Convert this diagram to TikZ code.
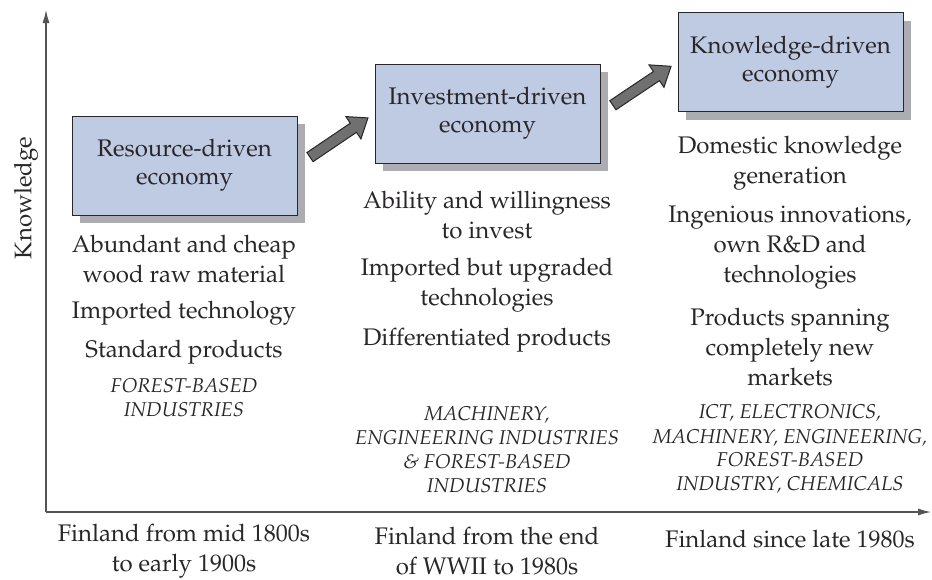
\documentclass[tikz,border=0pt]{standalone}
\usepackage[T1]{fontenc}
\usepackage{mathpazo}
\usepackage{tikz}
\usetikzlibrary{positioning,arrows.meta,shapes.arrows,shadows}
\definecolor{boxblue}{RGB}{191,202,227}
\definecolor{shadowgray}{RGB}{172,173,178}
\definecolor{arrowgray}{RGB}{112,112,112}
\definecolor{inkgray}{RGB}{40,38,40}
\definecolor{axisgray}{RGB}{85,85,85}
\tikzset{ecobox/.style={draw=inkgray, line width=0.5pt, fill=boxblue, text=inkgray,
  minimum width=112.5pt, minimum height=49.5pt, align=center,
  font=\fontsize{12}{14}\selectfont,
  drop shadow={shadow xshift=4pt, shadow yshift=-4pt, fill=shadowgray, opacity=1}}}
\tikzset{fatarrow/.style={single arrow, draw=inkgray, line width=0.5pt, fill=arrowgray,
  minimum height=35pt, minimum width=13pt, single arrow head extend=4pt,
  single arrow tip angle=75, inner xsep=0pt, inner ysep=2.5pt}}
\tikzset{axisline/.style={draw=axisgray, line width=1pt, -{Latex[length=7pt,width=3.5pt]}}}
\tikzset{itemtext/.style={align=center, text=inkgray, font=\fontsize{12}{15}\selectfont}}
\tikzset{industrytext/.style={align=center, text=inkgray, font=\fontsize{10}{12}\selectfont\itshape}}

\begin{document}
\begin{tikzpicture}[x=0.5pt, y=-0.5pt]
            \useasboundingbox (0,0) rectangle (932,579);

            % axes
            \coordinate (origin) at (46,512);
            \coordinate (ytop) at (46,9);
            \coordinate (xend) at (932,512);
            \draw[axisline] (origin) -- (ytop);
            \draw[axisline] (origin) -- (xend);
            \node[itemtext, rotate=90] (knowlabel) at (26,198) {Knowledge};

            % the three stages
            \node[ecobox] (resource) at (184.5,165.5) {Resource-driven\\economy};
            \node[ecobox] (investment) at (487.5,113.5) {Investment-driven\\economy};
            \node[ecobox] (knowledge) at (790.5,62) {Knowledge-driven\\economy};

            \path (resource.east) -- (investment.west) node[fatarrow, midway, sloped] (resinv) {};
            \path (investment.east) -- (knowledge.west) node[fatarrow, midway, sloped] (invknow) {};

            % resource-driven column
            \node[itemtext] (r1) at (184,259) {Abundant and cheap\\wood raw material};
            \node[itemtext] (r2) at (184,313) {Imported technology};
            \node[itemtext] (r3) at (184,352) {Standard products};
            \node[industrytext] (r4) at (184,398) {FOREST-BASED\\INDUSTRIES};

            % investment-driven column
            \node[itemtext] (i1) at (487,215) {Ability and willingness\\to invest};
            \node[itemtext] (i2) at (487,285) {Imported but upgraded\\technologies};
            \node[itemtext] (i3) at (487,340) {Differentiated products};
            \node[industrytext] (i4) at (487,449.5) {MACHINERY,\\ENGINEERING INDUSTRIES\\\& FOREST-BASED\\INDUSTRIES};

            % knowledge-driven column
            \node[itemtext] (k1) at (790,163) {Domestic knowledge\\generation};
            \node[itemtext] (k2) at (790,248) {Ingenious innovations,\\own R\&D and\\technologies};
            \node[itemtext] (k3) at (790,347) {Products spanning\\completely new\\markets};
            \node[industrytext] (k4) at (790,449.5) {ICT, ELECTRONICS,\\MACHINERY, ENGINEERING,\\FOREST-BASED\\INDUSTRY, CHEMICALS};

            % periods
            \node[itemtext] (p1) at (184,551) {Finland from mid 1800s\\to early 1900s};
            \node[itemtext] (p2) at (487,551) {Finland from the end\\of WWII to 1980s};
            \node[itemtext] (p3) at (790,539) {Finland since late 1980s};
        \end{tikzpicture}
\end{document}
